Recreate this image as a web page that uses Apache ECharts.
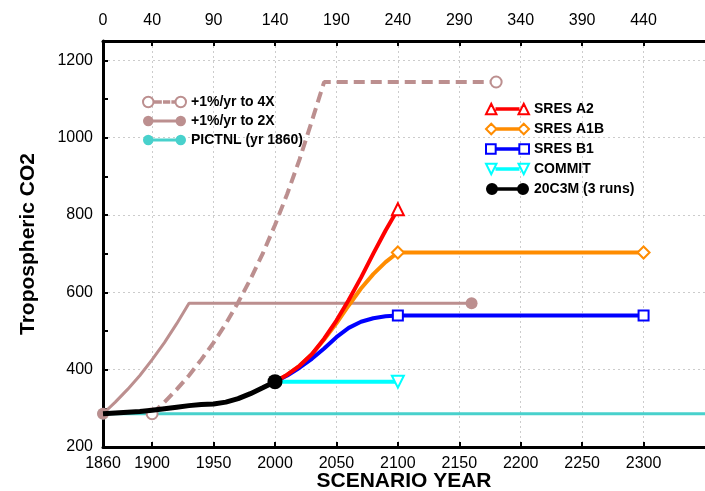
<!DOCTYPE html>
<html>
<head>
<meta charset="utf-8">
<script src="https://cdn.jsdelivr.net/npm/echarts@6/dist/echarts.min.js"></script>
<style>html,body{margin:0;padding:0;background:#fff}#c{width:705px;height:491px}</style>
</head>
<body>
<div id="c"></div>
<script>
// ---- data ----
const xTickYears = [1860, 1900, 1950, 2000, 2050, 2100, 2150, 2200, 2250, 2300];
const yTickValues = [200, 400, 600, 800, 1000, 1200];

const yearsPictnl = [1860, 2350];
const co2Pictnl = [286, 286];

const years2X = [1860, 1870, 1880, 1890, 1900, 1910, 1920, 1930, 2160];
const co2_2X = [286, 316, 349, 385, 426, 470, 519, 572, 572];

const years4X = [1900, 1910, 1920, 1930, 1940, 1950, 1960, 1970, 1980, 1990, 2000, 2010, 2020, 2030, 2040, 2180];
const co2_4X = [286, 316, 349, 385, 426, 470, 519, 574, 634, 700, 774, 855, 944, 1043, 1144, 1144];

const yearsHist = [1860, 1870, 1880, 1890, 1900, 1910, 1920, 1930, 1940, 1950, 1960, 1970, 1980, 1990, 2000];
const co2Hist = [286, 288, 290, 292, 295, 299, 303, 307, 310, 311, 316, 325, 338, 353, 369];

const yearsScen = [2000, 2010, 2020, 2030, 2040, 2050, 2060, 2070, 2080, 2090, 2100];
const co2A2 = [369, 387, 410, 440, 480, 527, 580, 638, 700, 760, 815];
const yearsStab = [2000, 2010, 2020, 2030, 2040, 2050, 2060, 2070, 2080, 2090, 2100, 2300];
const co2A1B = [369, 387, 410, 440, 478, 520, 566, 610, 647, 678, 703, 703];
const co2B1 = [369, 385, 405, 428, 455, 484, 508, 524, 533, 538, 540, 540];

const yearsCommit = [2000, 2100];
const co2Commit = [369, 369];

// ---- chart ----
function pts(xs, ys, markAt) {
  return xs.map((x, i) => markAt.indexOf(x) >= 0 ? [x, ys[i]] : { value: [x, ys[i]], symbol: 'none' });
}
const FONT = 'Liberation Sans, Arial, Helvetica, sans-serif';
const hollow = c => ({ color: '#fff', borderColor: c, borderWidth: 2 });

// legend icons: a line with the marker at both ends (43 x 12 box)
const BAR = 'M11,5.4 L32,5.4 L32,6.6 L11,6.6 Z';
const THICKBAR = 'M10,4.6 L33,4.6 L33,7.4 L10,7.4 Z';
const DASHBAR = 'M12,5.4 L18,5.4 L18,6.6 L12,6.6 Z M21,5.4 L26,5.4 L26,6.6 L21,6.6 Z M29,5.4 L32,5.4 L32,6.6 L29,6.6 Z';
const circ = cx => `M${cx - 5},6 A5,5 0 1,1 ${cx + 5},6 A5,5 0 1,1 ${cx - 5},6 Z`;
const bigc = cx => `M${cx - 6},6 A6,6 0 1,1 ${cx + 6},6 A6,6 0 1,1 ${cx - 6},6 Z`;
const tri = cx => `M${cx - 5},11 L${cx},1 L${cx + 5},11 Z`;
const itri = cx => `M${cx - 5},1 L${cx + 5},1 L${cx},11 Z`;
const dia = cx => `M${cx - 5},6 L${cx},1 L${cx + 5},6 L${cx},11 Z`;
const sq = cx => `M${cx - 4.5},1.5 L${cx + 4.5},1.5 L${cx + 4.5},10.5 L${cx - 4.5},10.5 Z`;
const icon = (f, bar) => 'path://' + f(6) + ' ' + (bar || BAR) + ' ' + f(37);

const chart = echarts.init(document.getElementById('c'), null, { renderer: 'canvas' });
const axisCommon = {
  type: 'value', min: 1860, max: 2350,
  axisLine: { show: true, onZero: false, lineStyle: { color: '#000', width: 3 } },
  axisTick: { show: true, inside: true, length: 5, customValues: xTickYears, lineStyle: { color: '#000', width: 2 } },
};
const legendText = { fontFamily: FONT, fontSize: 14, fontWeight: 'bold', color: '#000' };
chart.setOption({
  animation: false,
  grid: { left: 103, right: 0, top: 41, bottom: 44, containLabel: false, outerBoundsMode: 'none' },
  legend: [
    {
      data: [
        { name: '+1%/yr to 4X', icon: icon(circ, DASHBAR) },
        { name: '+1%/yr to 2X', icon: icon(circ, THICKBAR) },
        { name: 'PICTNL (yr 1860)', icon: icon(circ, THICKBAR) }
      ],
      orient: 'vertical', left: 137, top: 90, itemWidth: 43, itemHeight: 12, itemGap: 5,
      textStyle: legendText
    },
    {
      data: [
        { name: 'SRES A2', icon: icon(tri) },
        { name: 'SRES A1B', icon: icon(dia) },
        { name: 'SRES B1', icon: icon(sq) },
        { name: 'COMMIT', icon: icon(itri) },
        { name: '20C3M (3 runs)', icon: 'path://' + bigc(6) + ' M10,4.3 L33,4.3 L33,7.7 L10,7.7 Z ' + bigc(37) }
      ],
      orient: 'vertical', left: 480, top: 97, itemWidth: 43, itemHeight: 12, itemGap: 6,
      textStyle: legendText
    }
  ],
  xAxis: [
    Object.assign({}, axisCommon, {
      position: 'bottom',
      name: 'SCENARIO YEAR', nameLocation: 'middle', nameGap: 24, nameMoveOverlap: false,
      nameTextStyle: { fontFamily: FONT, fontSize: 21, fontWeight: 'bold', color: '#000' },
      axisLabel: { customValues: xTickYears, margin: 9, fontFamily: FONT, fontSize: 16, color: '#000',
        formatter: v => String(v) },
      splitLine: { show: true, lineStyle: { color: '#ccc', type: [2, 3], width: 1 } }
    }),
    Object.assign({}, axisCommon, {
      position: 'top',
      axisLabel: { customValues: xTickYears, margin: 12, fontFamily: FONT, fontSize: 16, color: '#000',
        formatter: v => String(v - 1860) },
      splitLine: { show: false }
    })
  ],
  yAxis: {
    type: 'value', min: 200, max: 1250, interval: 200,
    name: 'Tropospheric CO2', nameLocation: 'middle', nameGap: 64, nameMoveOverlap: false,
    nameTextStyle: { fontFamily: FONT, fontSize: 21, fontWeight: 'bold', color: '#000' },
    axisLine: { show: true, lineStyle: { color: '#000', width: 3 } },
    axisTick: { show: true, inside: true, length: 5, lineStyle: { color: '#000', width: 2 } },
    minorTick: { show: true, splitNumber: 2, length: 5, lineStyle: { color: '#000', width: 2 } },
    axisLabel: { showMaxLabel: false, margin: 10, fontFamily: FONT, fontSize: 16, color: '#000',
      formatter: v => String(v) },
    splitLine: { show: true, lineStyle: { color: '#ccc', type: [2, 3], width: 1 } }
  },
  series: [
    {
      name: 'PICTNL (yr 1860)', type: 'line', symbol: 'circle', symbolSize: 11,
      lineStyle: { color: '#48D1CC', width: 3 }, itemStyle: { color: '#48D1CC' },
      data: pts(yearsPictnl, co2Pictnl, [1860]), z: 2
    },
    {
      name: '+1%/yr to 2X', type: 'line', symbol: 'circle', symbolSize: 12,
      lineStyle: { color: '#BC8F8F', width: 3 }, itemStyle: { color: '#BC8F8F' },
      data: pts(years2X, co2_2X, [1860, 2160]), z: 3
    },
    {
      name: '+1%/yr to 4X', type: 'line', symbol: 'circle', symbolSize: 11,
      lineStyle: { color: '#BC8F8F', width: 4, type: [11, 6] }, itemStyle: hollow('#BC8F8F'),
      data: pts(years4X, co2_4X, [1900, 2180]), z: 3
    },
    {
      name: 'SRES A1B', type: 'line', symbol: 'diamond', symbolSize: 12,
      lineStyle: { color: '#FF8C00', width: 4 }, itemStyle: hollow('#FF8C00'),
      data: pts(yearsStab, co2A1B, [2100, 2300]), z: 4
    },
    {
      name: 'SRES B1', type: 'line', symbol: 'rect', symbolSize: 10,
      lineStyle: { color: '#0000FF', width: 4 }, itemStyle: hollow('#0000FF'),
      data: pts(yearsStab, co2B1, [2100, 2300]), z: 5
    },
    {
      name: 'SRES A2', type: 'line', symbol: 'triangle', symbolSize: 12,
      lineStyle: { color: '#FF0000', width: 4 }, itemStyle: hollow('#FF0000'),
      data: pts(yearsScen, co2A2, [2100]), z: 6
    },
    {
      name: 'COMMIT', type: 'line', symbol: 'triangle', symbolRotate: 180, symbolSize: 12,
      lineStyle: { color: '#00FFFF', width: 4 }, itemStyle: hollow('#00FFFF'),
      data: pts(yearsCommit, co2Commit, [2100]), z: 4
    },
    {
      name: '20C3M (3 runs)', type: 'line', symbol: 'circle', symbolSize: 15,
      lineStyle: { color: '#000', width: 5 }, itemStyle: { color: '#000' },
      data: pts(yearsHist, co2Hist, [2000]), z: 7
    }
  ]
});
</script>
</body>
</html>
